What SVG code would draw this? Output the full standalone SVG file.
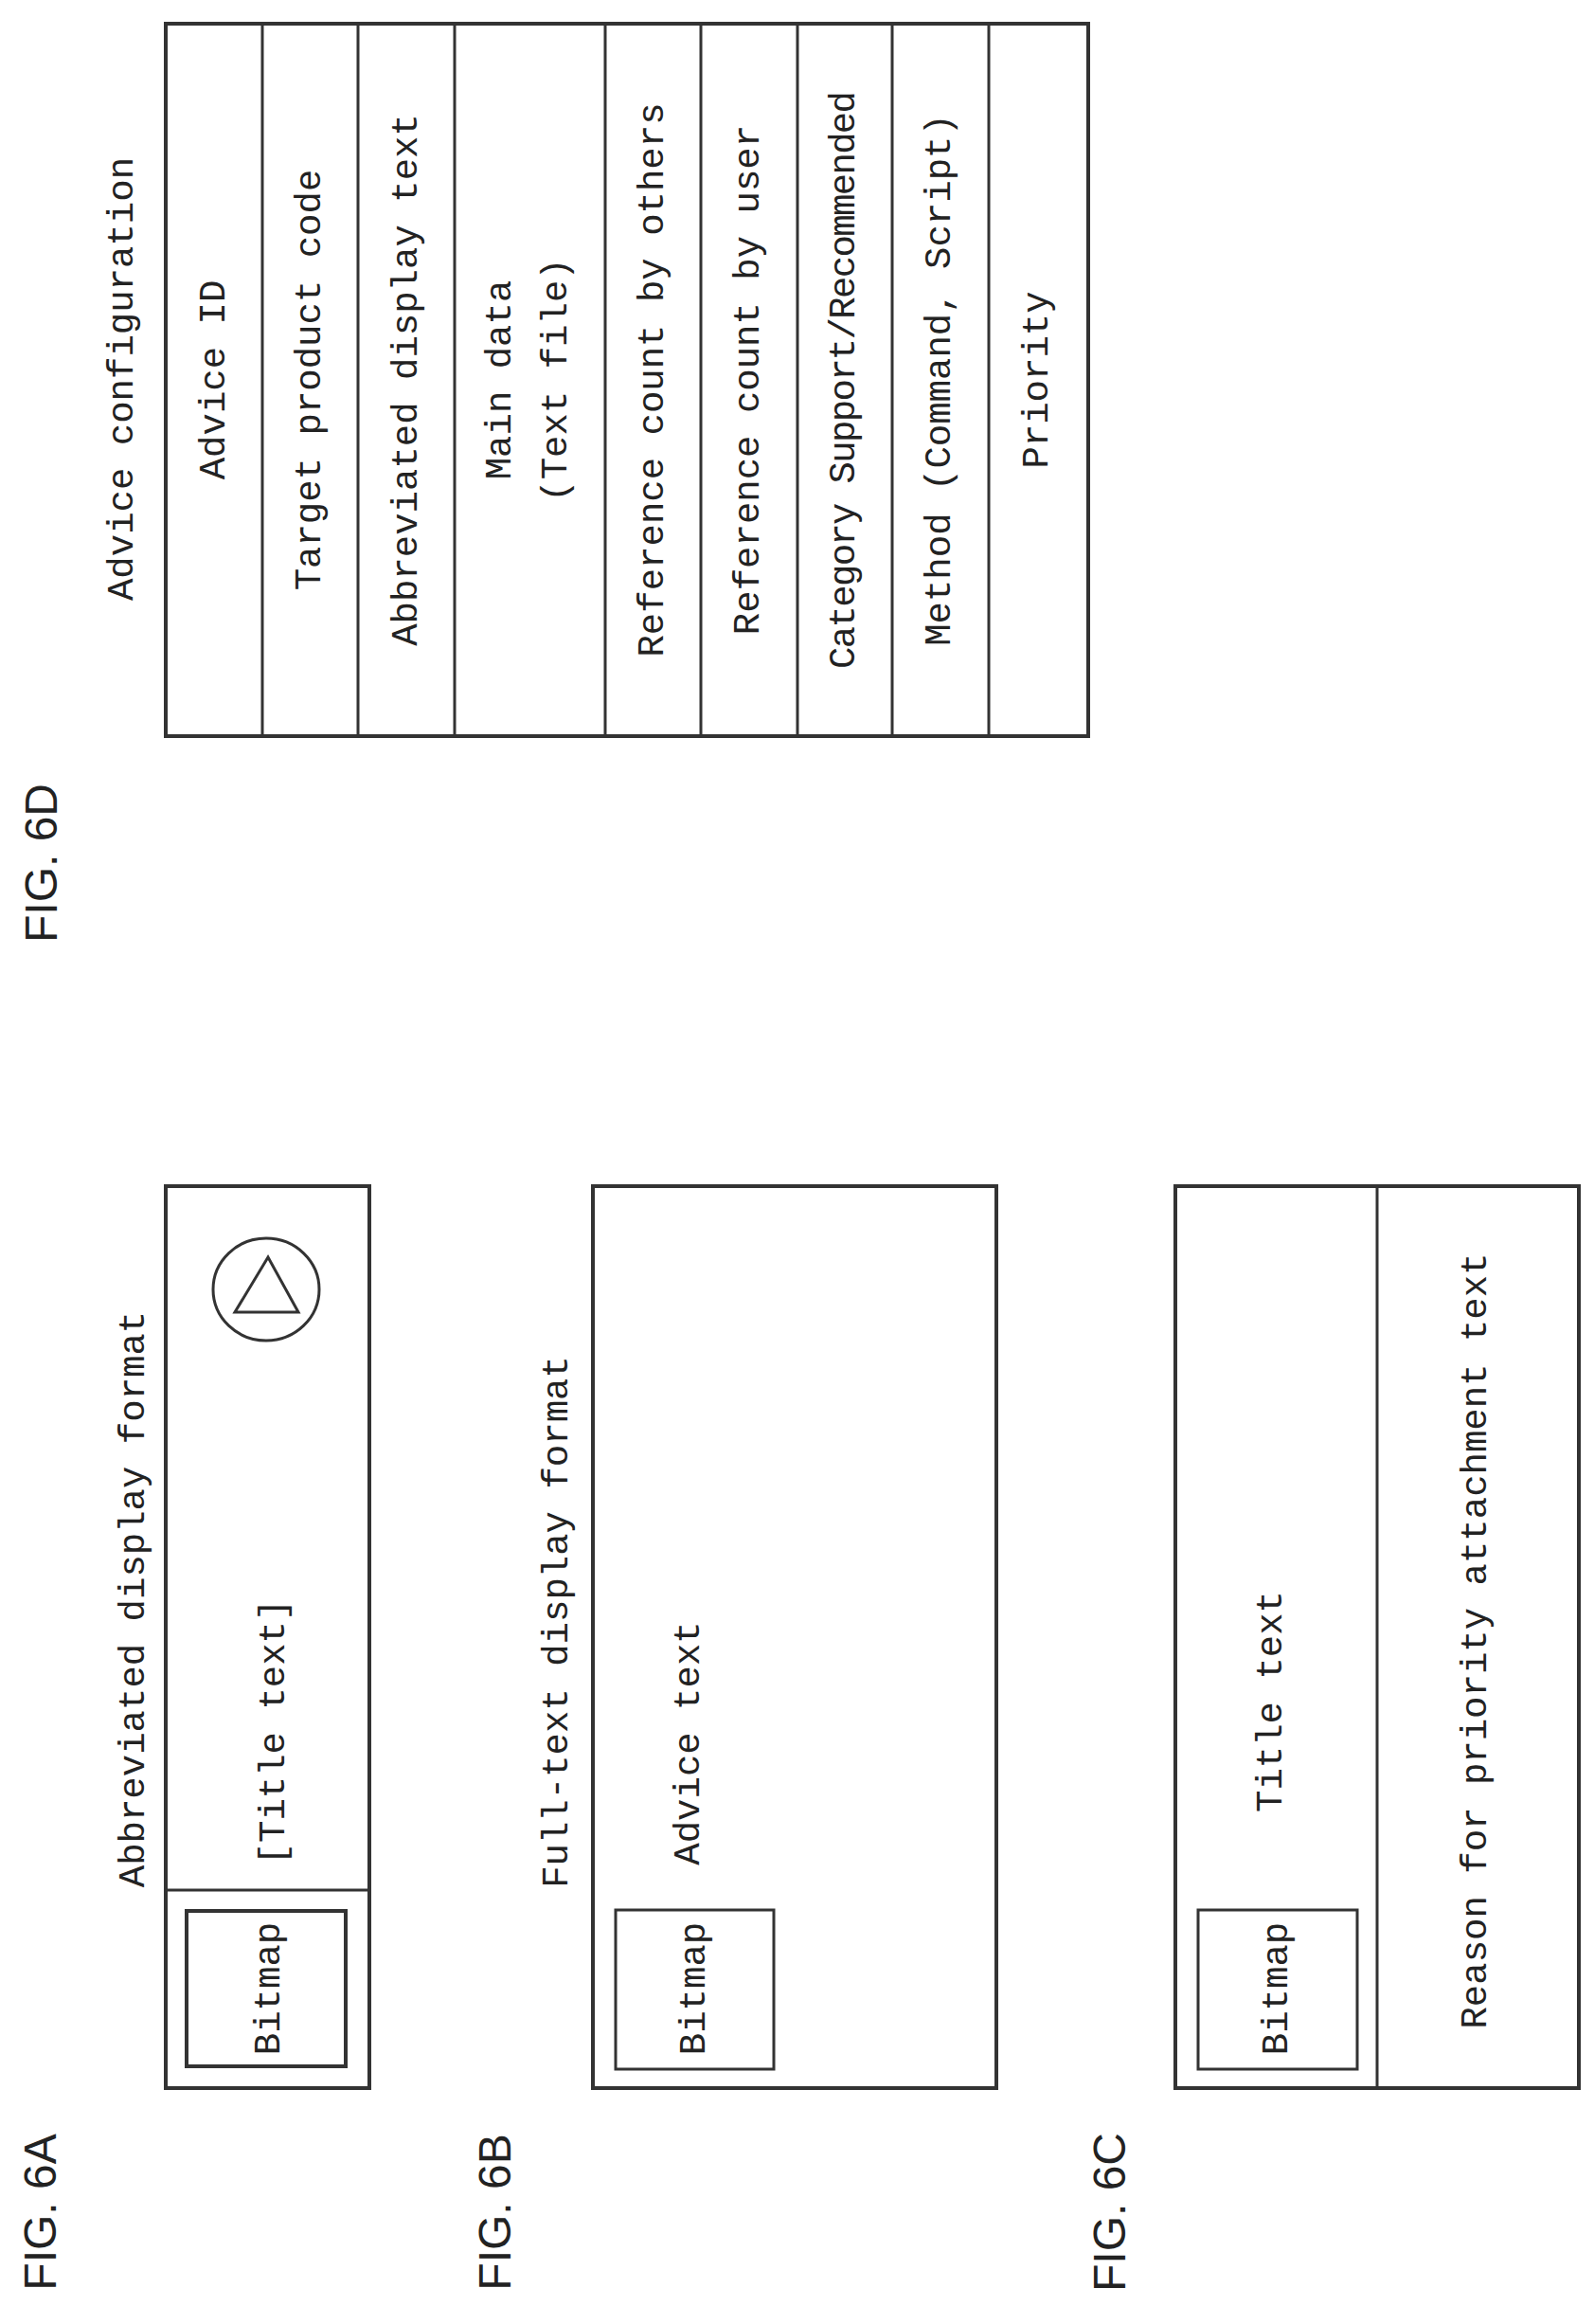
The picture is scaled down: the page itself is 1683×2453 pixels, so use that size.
<svg xmlns="http://www.w3.org/2000/svg" width="1683" height="2453" viewBox="0 0 1683 2453">
<style>
.b{fill:none;stroke:#333;stroke-width:3}
.o{fill:none;stroke:#333;stroke-width:4}
.t{font-family:"Liberation Mono",monospace;font-size:39px;fill:#222;text-anchor:middle;dominant-baseline:central}
.f{font-family:"Liberation Sans",sans-serif;font-size:48px;fill:#222;text-anchor:middle;dominant-baseline:central}
</style>
<rect width="1683" height="2453" fill="#fff"/>
<g id="fig6d">
<text class="f" transform="translate(43,911) rotate(-90)">FIG. 6D</text>
<text class="t" transform="translate(130,400) rotate(-90)">Advice configuration</text>
<rect class="o" x="175" y="25" width="974" height="752"/>
<g class="b">
<line x1="277" y1="25" x2="277" y2="777"/><line x1="378" y1="25" x2="378" y2="777"/>
<line x1="480" y1="25" x2="480" y2="777"/><line x1="639" y1="25" x2="639" y2="777"/>
<line x1="740" y1="25" x2="740" y2="777"/><line x1="842" y1="25" x2="842" y2="777"/>
<line x1="942" y1="25" x2="942" y2="777"/><line x1="1044" y1="25" x2="1044" y2="777"/>
</g>
<text class="t" transform="translate(227,401) rotate(-90)">Advice ID</text>
<text class="t" transform="translate(328,401) rotate(-90)">Target product code</text>
<text class="t" transform="translate(430,401) rotate(-90)">Abbreviated display text</text>
<text class="t" transform="translate(529,401) rotate(-90)">Main data</text>
<text class="t" transform="translate(588,401) rotate(-90)">(Text file)</text>
<text class="t" transform="translate(690,401) rotate(-90)">Reference count by others</text>
<text class="t" transform="translate(791,401) rotate(-90)">Reference count by user</text>
<text class="t" transform="translate(892,401) rotate(-90)" textLength="610">Category  Support/Recommended</text>
<text class="t" transform="translate(993,401) rotate(-90)">Method (Command, Script)</text>
<text class="t" transform="translate(1096,401) rotate(-90)">Priority</text>
</g>
<g id="fig6a">
<text class="f" transform="translate(42,2335) rotate(-90)">FIG. 6A</text>
<text class="t" transform="translate(142,1688) rotate(-90)">Abbreviated display format</text>
<rect class="o" x="175" y="1252" width="215" height="952"/>
<line class="b" x1="175" y1="1995" x2="390" y2="1995"/>
<rect class="o" x="197" y="2017" width="168" height="164"/>
<text class="t" transform="translate(285,2099) rotate(-90)">Bitmap</text>
<text class="t" transform="translate(290,1828) rotate(-90)">[Title text]</text>
<ellipse class="b" cx="281" cy="1361" rx="56" ry="54"/>
<polygon class="b" points="283,1327 248,1385 315,1385"/>
</g>
<g id="fig6b">
<text class="f" transform="translate(522,2335) rotate(-90)">FIG. 6B</text>
<text class="t" transform="translate(589,1712) rotate(-90)">Full-text display format</text>
<rect class="o" x="626" y="1252" width="426" height="952"/>
<rect class="b" x="650" y="2016" width="167" height="168"/>
<text class="t" transform="translate(734,2099) rotate(-90)">Bitmap</text>
<text class="t" transform="translate(728,1840) rotate(-90)">Advice text</text>
</g>
<g id="fig6c">
<text class="f" transform="translate(1171,2335) rotate(-90)">FIG. 6C</text>
<rect class="o" x="1241" y="1252" width="426" height="952"/>
<line class="b" x1="1454" y1="1252" x2="1454" y2="2204"/>
<rect class="b" x="1265" y="2016" width="168" height="168"/>
<text class="t" transform="translate(1349,2099) rotate(-90)">Bitmap</text>
<text class="t" transform="translate(1343,1796) rotate(-90)">Title text</text>
<text class="t" transform="translate(1559,1732) rotate(-90)">Reason for priority attachment text</text>
</g>
<g id="connectors"/>
</svg>
